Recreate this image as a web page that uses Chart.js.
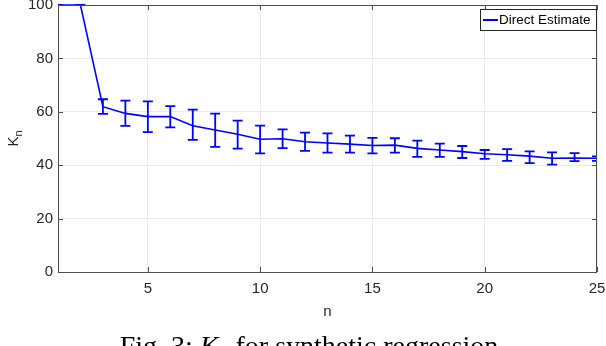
<!DOCTYPE html>
<html>
<head>
<meta charset="utf-8">
<script src="https://cdn.jsdelivr.net/npm/chart.js@4.4.0/dist/chart.umd.min.js"></script>
<style>
  body { margin: 0; background: #fff; }
  #wrap { width: 606px; height: 346px; }
</style>
</head>
<body>
<div id="wrap"><canvas id="myChart" width="606" height="346"></canvas></div>
<script>
// data
const nValues = [1, 2, 3, 4, 5, 6, 7, 8, 9, 10, 11, 12, 13, 14, 15, 16, 17, 18, 19, 20, 21, 22, 23, 24, 25];
const kMean  = [100, 100, 61.9, 59.4, 58.2, 58.2, 54.8, 53.2, 51.6, 49.7, 49.9, 48.8, 48.3, 47.9, 47.4, 47.5, 46.3, 45.7, 45.1, 44.3, 43.9, 43.4, 42.6, 42.7, 42.6];
const kUpper = [100, 100, 64.7, 64.2, 63.9, 62.1, 60.8, 59.3, 56.7, 54.8, 53.4, 52.2, 51.9, 51.1, 50.2, 50.1, 49.2, 48.1, 47.2, 45.7, 46.0, 45.2, 44.8, 44.5, 43.3];
const kLower = [100, 100, 59.2, 54.7, 52.4, 54.2, 49.5, 46.9, 46.2, 44.4, 46.4, 45.4, 44.7, 44.7, 44.4, 44.7, 43.1, 43.1, 42.7, 42.4, 41.6, 40.8, 40.2, 41.5, 41.6];
const xTicks = [5, 10, 15, 20, 25];
const yTicks = [0, 20, 40, 60, 80, 100];

const blue = "#0000ff";
const axisColor = "#4d4d4d";
const textColor = "#262626";
const sans = "'Liberation Sans', Arial, sans-serif";
const serif = "'Liberation Serif', 'Times New Roman', serif";

// error bars, box, inward ticks, legend, y title and caption
const figureExtras = {
  id: "figureExtras",
  afterDatasetsDraw(chart) {
    const { ctx, chartArea: area, scales: { x, y } } = chart;

    // error bars
    ctx.save();
    ctx.beginPath();
    ctx.rect(area.left, area.top - 2, area.right - area.left, area.bottom - area.top + 4);
    ctx.clip();
    ctx.strokeStyle = blue;
    ctx.lineWidth = 1.8;
    nValues.forEach((n, i) => {
      const px = x.getPixelForValue(n);
      const yt = y.getPixelForValue(kUpper[i]);
      const yb = y.getPixelForValue(kLower[i]);
      ctx.beginPath();
      ctx.moveTo(px, yt);
      ctx.lineTo(px, yb);
      ctx.moveTo(px - 5, yt);
      ctx.lineTo(px + 5, yt);
      ctx.moveTo(px - 5, yb);
      ctx.lineTo(px + 5, yb);
      ctx.stroke();
    });
    ctx.restore();
  },
  afterDraw(chart) {
    const { ctx, chartArea: area, scales: { x, y } } = chart;
    ctx.save();

    // box + inward ticks
    ctx.strokeStyle = axisColor;
    ctx.lineWidth = 1;
    ctx.strokeRect(area.left + 0.5, area.top + 0.5, area.right - area.left - 1, area.bottom - area.top);
    ctx.beginPath();
    xTicks.forEach((v) => {
      const px = Math.round(x.getPixelForValue(v)) + 0.5;
      ctx.moveTo(px, area.bottom);
      ctx.lineTo(px, area.bottom - 5);
      ctx.moveTo(px, area.top);
      ctx.lineTo(px, area.top + 5);
    });
    yTicks.forEach((v) => {
      const py = Math.round(y.getPixelForValue(v)) + 0.5;
      ctx.moveTo(area.left, py);
      ctx.lineTo(area.left + 5, py);
      ctx.moveTo(area.right, py);
      ctx.lineTo(area.right - 5, py);
    });
    ctx.stroke();

    // legend
    const lw = 116, lh = 21;
    const lx = area.right - lw - 1, ly = area.top + 4;
    ctx.fillStyle = "#fff";
    ctx.fillRect(lx, ly, lw, lh);
    ctx.strokeStyle = "#262626";
    ctx.strokeRect(lx + 0.5, ly + 0.5, lw, lh);
    ctx.strokeStyle = blue;
    ctx.lineWidth = 2;
    ctx.beginPath();
    ctx.moveTo(lx + 3, ly + lh / 2 + 0.5);
    ctx.lineTo(lx + 18, ly + lh / 2 + 0.5);
    ctx.stroke();
    ctx.fillStyle = "#000";
    ctx.font = "13.5px " + sans;
    ctx.textBaseline = "middle";
    ctx.textAlign = "left";
    ctx.fillText("Direct Estimate", lx + 19, ly + lh / 2 + 1);

    // y title K_n
    ctx.fillStyle = textColor;
    ctx.translate(18, (area.top + area.bottom) / 2);
    ctx.rotate(-Math.PI / 2);
    ctx.textBaseline = "alphabetic";
    ctx.font = "15px " + sans;
    const kW = ctx.measureText("K").width;
    ctx.font = "11px " + sans;
    const nW = ctx.measureText("n").width;
    const start = -(kW + nW) / 2;
    ctx.font = "15px " + sans;
    ctx.fillText("K", start, 0);
    ctx.font = "11px " + sans;
    ctx.fillText("n", start + kW, 4);
    ctx.restore();

    // caption (cut off at the bottom as in the figure)
    ctx.save();
    ctx.fillStyle = "#000";
    ctx.textBaseline = "alphabetic";
    const parts = [
      ["Fig. 3: ", "28px " + serif, 0],
      ["K", "italic 28px " + serif, 0],
      ["n", "20px " + serif, 5],
      [" for synthetic regression", "28px " + serif, 0],
    ];
    let total = 0;
    parts.forEach(([t, f]) => { ctx.font = f; total += ctx.measureText(t).width; });
    let cx = 309 - total / 2;
    const base = 355;
    parts.forEach(([t, f, dy]) => {
      ctx.font = f;
      ctx.fillText(t, cx, base + dy);
      cx += ctx.measureText(t).width;
    });
    ctx.restore();
  },
};

const config = {
  type: "line",
  data: {
    datasets: [
      {
        label: "Direct Estimate",
        data: nValues.map((n, i) => ({ x: n, y: kMean[i] })),
        borderColor: blue,
        borderWidth: 1.6,
        pointRadius: 0,
        tension: 0,
        fill: false,
      },
    ],
  },
  options: {
    responsive: false,
    animation: false,
    clip: false,
    layout: {
      padding: { left: 0, right: 9, top: 5, bottom: 0 },
    },
    scales: {
      x: {
        type: "linear",
        min: 1,
        max: 25,
        afterBuildTicks: (axis) => {
          axis.ticks = xTicks.map((v) => ({ value: v }));
        },
        afterFit: (scale) => {
          scale.height = 74;
          scale.paddingLeft = 0;
          scale.paddingRight = 0;
        },
        grid: { color: "#ebebeb", drawTicks: false },
        border: { display: false },
        ticks: {
          color: textColor,
          padding: 8,
          maxRotation: 0,
          font: { family: sans, size: 15 },
        },
        title: {
          display: true,
          text: "n",
          color: textColor,
          padding: { top: 0, bottom: 25 },
          font: { family: sans, size: 15 },
        },
      },
      y: {
        min: 0,
        max: 100,
        afterFit: (scale) => {
          scale.width = 58;
          scale.paddingTop = 0;
          scale.paddingBottom = 0;
        },
        grid: { color: "#ebebeb", drawTicks: false },
        border: { display: false },
        ticks: {
          stepSize: 20,
          color: textColor,
          padding: 5,
          font: { family: sans, size: 15 },
        },
      },
    },
    plugins: {
      legend: { display: false },
      tooltip: { enabled: false },
    },
  },
  plugins: [figureExtras],
};

const myChart = new Chart(document.getElementById("myChart"), config);
</script>
</body>
</html>
